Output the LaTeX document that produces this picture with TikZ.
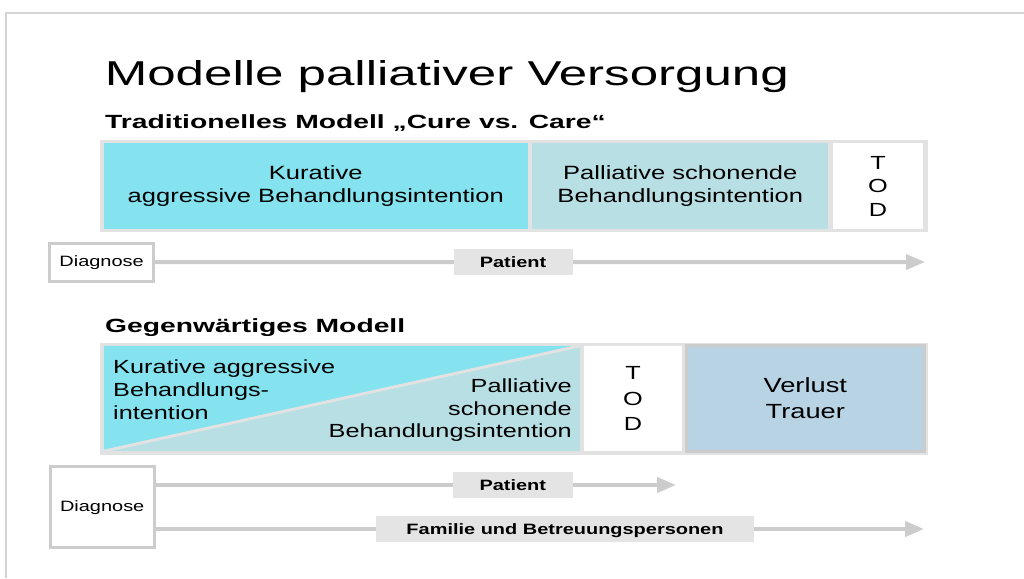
\documentclass[tikz,border=0pt]{standalone}
\usepackage{fontspec}
\usepackage{tikz}
\setmainfont{Liberation Sans}[FakeStretch=1.33]
\newfontfamily\headfont{Liberation Sans}[FakeStretch=1.48]
\usetikzlibrary{arrows.meta}
\usetikzlibrary{positioning}
\definecolor{cureblue}{RGB}{132,227,239}
\definecolor{careblue}{RGB}{184,223,228}
\definecolor{griefblue}{RGB}{184,211,228}
\definecolor{barframe}{RGB}{226,226,226}
\definecolor{linegray}{RGB}{204,204,204}
\definecolor{labelgray}{RGB}{228,228,228}
\definecolor{pagegray}{RGB}{212,212,212}
\tikzset{phase/.style = {inner sep = 0, minimum height = 86, align = center,
                         font = \fontsize{19.2}{23}\selectfont}}
\tikzset{diagbox/.style = {draw = linegray, line width = 3, fill = white, inner sep = 0,
                           font = \fontsize{15}{18}\selectfont}}
\tikzset{tag/.style = {fill = labelgray, inner sep = 0, minimum height = 26, text depth = 0,
                       font = \bfseries\fontsize{15}{18}\selectfont}}
\tikzset{flow/.style = {draw = linegray, line width = 4,
                        -{Triangle[length=19pt, width=15pt]}}}
\tikzset{heading/.style = {anchor = base west, inner sep = 0}}

\begin{document}
\begin{tikzpicture}[x = 1pt, y = -1pt]
      \useasboundingbox (0, 0) rectangle (1024, 578);
      \draw [pagegray, line width = 2] (1024, 13) -- (6, 13) -- (6, 578);

      \node [heading, font = \headfont\fontsize{34.5}{40}\selectfont] (title) at (104.6, 85) {Modelle palliativer Versorgung};
      \node [heading, font = \headfont\bfseries\fontsize{19.1}{23}\selectfont] (trad) at (105, 128) {Traditionelles Modell „Cure vs. Care“};

      % old model: cure, then care, then death
      \fill [barframe] (100, 140) rectangle (928, 232);
      \node [phase, fill = cureblue, minimum width = 424] (cure) at (315.8, 186.2) {Kurative\\aggressive Behandlungsintention};
      \node [phase, fill = careblue, minimum width = 296] (care) at (680.3, 186.2) {Palliative schonende\\Behandlungsintention};
      \node [phase, fill = white, minimum width = 90, font = \fontsize{19}{23.5}\selectfont] (tod) at (878, 186.2) {T\\O\\D};

      \node [diagbox, minimum width = 104, minimum height = 38] (diag) at (101.6, 262.2) {Diagnose};
      \coordinate (end) at (925, 262);
      \draw [flow] (diag.east) -- (end);
      \node [tag, minimum width = 119] (pat) at (513, 262) {Patient};

      \node [heading, font = \headfont\bfseries\fontsize{19.1}{23}\selectfont] (now) at (105, 332) {Gegenwärtiges Modell};

      % current model: overlapping intentions, death, bereavement
      \fill [barframe] (100, 343) rectangle (928, 455);
      \node [inner sep = 0, minimum width = 476, minimum height = 105] (split) at (342, 398.5) {};
      \fill [cureblue] (split.north west) -- (split.north east) -- (split.south west) -- cycle;
      \fill [careblue] (split.north east) -- (split.south east) -- (split.south west) -- cycle;
      \draw [barframe, line width = 3] (split.south west) -- (split.north east);
      \node [anchor = north west, inner sep = 0, align = left, font = \fontsize{19}{23}\selectfont] (curetext) at (113, 360) {Kurative aggressive\\Behandlungs-\\intention};
      \node [anchor = north east, inner sep = 0, align = right, font = \fontsize{19}{22.5}\selectfont] (caretext) at (572, 379) {Palliative\\schonende\\Behandlungsintention};
      \node [phase, fill = white, minimum width = 98, minimum height = 105, font = \fontsize{19}{25.8}\selectfont] (tod2) at (633, 398.5) {T\\O\\D};
      \node [phase, draw = linegray, line width = 3, fill = griefblue, minimum width = 237.7, minimum height = 105.7,
             font = \fontsize{20.5}{25.5}\selectfont] (grief) at (805.3, 398.4) {Verlust\\Trauer};

      \node [diagbox, minimum width = 104, minimum height = 81] (diag2) at (102.2, 507.2) {Diagnose};
      \coordinate (end2) at (676, 485);
      \coordinate (end3) at (924, 529);
      \draw [flow] (diag2.east |- end2) -- (end2);
      \draw [flow] (diag2.east |- end3) -- (end3);
      \node [tag, minimum width = 120] (pat2) at (512.8, 484.7) {Patient};
      \node [tag, minimum width = 378] (fam) at (565, 528.8) {Familie und Betreuungspersonen};

    \end{tikzpicture}
\end{document}
